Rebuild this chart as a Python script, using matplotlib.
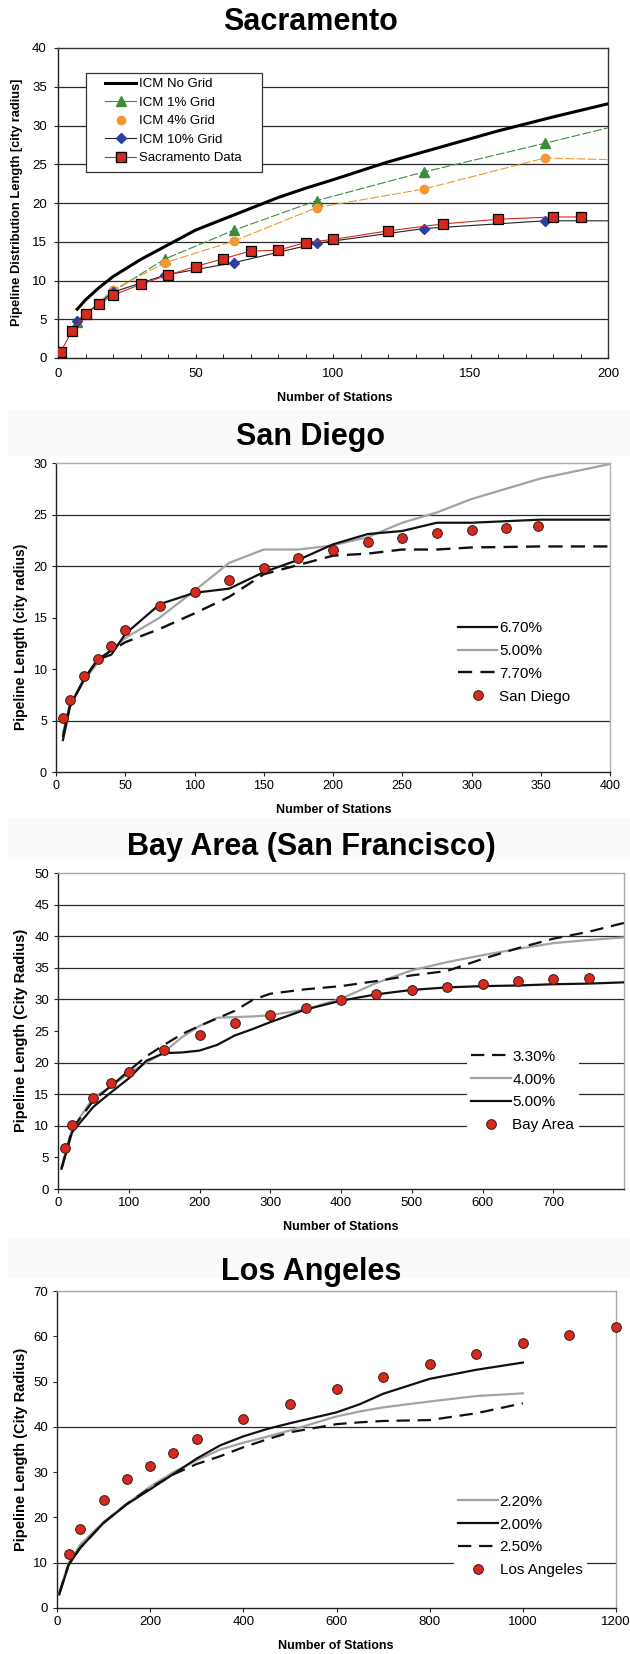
import matplotlib
matplotlib.use('agg')
import matplotlib.pyplot as plt
from matplotlib.lines import Line2D
from matplotlib.patches import Rectangle

plt.rcParams['font.family'] = ['Liberation Sans', 'DejaVu Sans']

RED = '#d62a1e'
GRAY = '#a3a3a3'

# ---- Sacramento ----
sac_x_nogrid = [7, 10, 15, 20, 30, 40, 50, 60, 70, 80, 90, 100, 120, 140, 160, 180, 200]
sac_y_nogrid = [6.3, 7.5, 9.1, 10.5, 12.7, 14.6, 16.5, 17.9, 19.3, 20.7, 21.9, 23.0, 25.3, 27.3, 29.3, 31.1, 32.8]
sac_x_grid = [7, 20, 39, 64, 94, 133, 177, 200]
sac_y_1pct = [4.7, 8.6, 12.8, 16.5, 20.3, 24.0, 27.7, 29.7]
sac_y_4pct = [4.7, 8.8, 12.3, 15.1, 19.4, 21.8, 25.8, 25.6]
sac_y_10pct = [4.8, 8.5, 10.7, 12.3, 14.8, 16.7, 17.7, 17.7]
sac_x_data = [1, 5, 10, 15, 20, 30, 40, 50, 60, 70, 80, 90, 100, 120, 140, 160, 180, 190]
sac_y_data = [0.8, 3.45, 5.65, 7.0, 8.1, 9.5, 10.7, 11.8, 12.8, 13.8, 13.9, 14.9, 15.3, 16.4, 17.3, 17.9, 18.2, 18.2]

# ---- San Diego ----
sd_x_data = [5, 10, 20, 30, 40, 50, 75, 100, 125, 150, 175, 200, 225, 250, 275, 300, 325, 348]
sd_y_data = [5.25, 7.0, 9.3, 10.95, 12.2, 13.8, 16.15, 17.5, 18.6, 19.8, 20.8, 21.6, 22.3, 22.7, 23.2, 23.5, 23.7, 23.9]
sd_x_model = [5, 10, 20, 30, 40, 50, 75, 100, 125, 150, 175, 200, 225, 250, 275, 300, 350, 400]
sd_y_670 = [3.1, 6.3, 9.0, 10.9, 11.4, 13.4, 16.3, 17.4, 17.8, 19.4, 20.6, 22.1, 23.1, 23.4, 24.2, 24.2, 24.5, 24.5]
sd_y_500 = [3.8, 6.6, 8.8, 10.6, 11.9, 13.0, 15.0, 17.6, 20.3, 21.6, 21.6, 22.0, 22.8, 24.2, 25.2, 26.5, 28.5, 29.9]
sd_y_770 = [3.4, 6.4, 8.9, 10.9, 11.8, 12.6, 13.9, 15.4, 17.0, 19.2, 20.1, 21.0, 21.2, 21.6, 21.6, 21.8, 21.9, 21.9]

# ---- Bay Area ----
bay_x_data = [10, 20, 50, 75, 100, 150, 200, 250, 300, 350, 400, 450, 500, 550, 600, 650, 700, 750]
bay_y_data = [6.5, 10.1, 14.4, 16.7, 18.5, 22.0, 24.3, 26.2, 27.6, 28.7, 29.9, 30.9, 31.5, 32.0, 32.5, 32.9, 33.2, 33.4]
bay_x_model = [5, 20, 50, 75, 100, 125, 150, 175, 200, 225, 250, 275, 300, 350, 400, 450, 500, 550, 600, 650, 700, 750, 800]
bay_y_330 = [3.2, 9.5, 14.0, 16.3, 18.7, 21.0, 22.8, 24.5, 25.8, 27.0, 28.2, 29.9, 30.9, 31.6, 32.1, 32.9, 33.8, 34.5, 36.4, 38.1, 39.6, 40.7, 42.1]
bay_y_400 = [3.5, 9.5, 14.5, 16.2, 18.3, 20.0, 21.7, 24.0, 25.8, 27.1, 27.2, 27.3, 27.5, 28.4, 30.1, 32.6, 34.6, 35.9, 37.0, 38.0, 38.9, 39.4, 39.8]
bay_y_500 = [3.2, 9.0, 13.0, 15.3, 17.5, 20.3, 21.5, 21.6, 21.9, 22.8, 24.3, 25.3, 26.4, 28.4, 29.8, 30.8, 31.5, 31.9, 32.1, 32.2, 32.4, 32.5, 32.7]

# ---- Los Angeles ----
la_x_data = [25, 50, 100, 150, 200, 250, 300, 400, 500, 600, 700, 800, 900, 1000, 1100, 1200]
la_y_data = [11.9, 17.5, 23.9, 28.5, 31.4, 34.2, 37.3, 41.8, 45.1, 48.3, 51.1, 53.8, 56.1, 58.5, 60.2, 62.0]
la_x_model = [5, 25, 50, 100, 150, 200, 250, 300, 350, 400, 450, 500, 600, 650, 700, 800, 900, 1000]
la_y_220 = [3.5, 10.0, 14.0, 19.0, 23.0, 26.8, 30.0, 32.6, 35.0, 36.5, 37.8, 39.2, 42.3, 43.4, 44.3, 45.6, 46.8, 47.4]
la_y_200 = [3.0, 9.5, 13.3, 18.8, 22.9, 26.2, 29.6, 33.0, 35.9, 37.9, 39.5, 40.8, 43.2, 45.0, 47.3, 50.6, 52.6, 54.2]
la_y_250 = [3.3, 9.6, 13.3, 18.8, 23.0, 26.5, 29.5, 31.8, 33.5, 35.5, 37.2, 38.8, 40.6, 41.0, 41.3, 41.5, 43.0, 45.2]

W, H = 630, 1654
fig = plt.figure(figsize=(W / 100, H / 100), dpi=100)

# very faint grey bands behind the titles
for y0, y1 in [(410, 455), (818, 858), (1238, 1277)]:
    fig.patches.append(Rectangle((8 / W, 1 - y1 / H), 1, (y1 - y0) / H,
                                 transform=fig.transFigure, color='#fafafa', zorder=0))


def make_axes(left, right, top, bottom):
    return fig.add_axes([left / W, 1 - bottom / H, (right - left) / W, (bottom - top) / H])


def style(ax, xlim, xticks, ylim, yticks, grid, frame_col, tick_size):
    ax.set_xlim(*xlim)
    ax.set_ylim(*ylim)
    ax.set_xticks(xticks)
    ax.set_yticks(yticks)
    for y in grid:
        ax.axhline(y, color='#2a2a2a', lw=0.9, zorder=0.5)
    ax.spines['left'].set_color('#222222')
    ax.spines['bottom'].set_color('#222222')
    ax.spines['top'].set_color(frame_col)
    ax.spines['right'].set_color(frame_col)
    for s in ax.spines.values():
        s.set_linewidth(1.0)
    ax.tick_params(labelsize=tick_size, length=3, width=0.8, color='#222222')


def title(text, y):
    fig.text(311 / W, 1 - y / H, text, ha='center', va='center',
             fontsize=22, fontweight='bold')


def xlabel(text, x, y):
    fig.text(x / W, 1 - y / H, text, ha='center', va='center', fontsize=9, fontweight='bold')


def ylabel(text, x, y, size):
    fig.text(x / W, 1 - y / H, text, ha='center', va='center', rotation=90,
             fontsize=size, fontweight='bold')


def side_legend(ax, handles, labels, x, y, framed):
    leg = ax.legend(handles, labels, loc='center left', bbox_to_anchor=(x, y),
                    borderaxespad=0, fontsize=11, handlelength=2.6, handletextpad=0.1,
                    labelspacing=0.58, borderpad=0.3 if framed else 0,
                    frameon=framed, fancybox=False, framealpha=1, edgecolor='none')
    leg.set_zorder(10)
    return leg


# ---------------- Sacramento ----------------
ax = make_axes(58, 608, 48, 358)
style(ax, (0, 200), range(0, 201, 50), (0, 40), range(0, 41, 5),
      [5, 10, 15, 20, 25, 30, 35], '#333333', 9.5)
ax.set_xticks(range(0, 201, 10), minor=True)
ax.tick_params(axis='x', which='both', direction='in', length=3, pad=7)
ax.tick_params(axis='y', pad=5)
ax.plot(sac_x_nogrid, sac_y_nogrid, color='black', lw=2.2, zorder=3)
ax.plot(sac_x_grid, sac_y_1pct, color='#3c8c3c', lw=0.8, dashes=(8, 2), marker='^',
        ms=6.5, markevery=list(range(7)), zorder=4)
ax.plot(sac_x_grid, sac_y_4pct, color='#f5962e', lw=0.8, dashes=(8, 2), marker='o',
        ms=6, markevery=list(range(1, 7)), zorder=4)
ax.plot(sac_x_grid, sac_y_10pct, color='#222222', lw=0.8, marker='D', ms=5,
        mfc='#2b3fa0', mec='#2b3fa0', markevery=list(range(7)), zorder=5)
ax.plot(sac_x_data, sac_y_data, color=RED, lw=0.8, marker='s', ms=6.5,
        mfc=RED, mec='black', mew=0.9, zorder=6)
# legend box drawn by hand: wide side padding, tight top
ax.add_patch(Rectangle((0.051, 0.60), 0.32, 0.319, transform=ax.transAxes,
                       facecolor='white', edgecolor='#333333', lw=0.9, zorder=9))
handles = [
    Line2D([], [], color='black', lw=2.2),
    Line2D([], [], color='#3c8c3c', lw=0.8, marker='^', ms=6.5),
    Line2D([], [], color='none', marker='o', ms=6, mfc='#f5962e', mec='#f5962e'),
    Line2D([], [], color='#222222', lw=0.8, marker='D', ms=5, mfc='#2b3fa0', mec='#2b3fa0'),
    Line2D([], [], color=RED, lw=0.8, marker='s', ms=6.5, mfc=RED, mec='black'),
]
leg = ax.legend(handles, ['ICM No Grid', 'ICM 1% Grid', 'ICM 4% Grid', 'ICM 10% Grid',
                          'Sacramento Data'],
                loc='center left', bbox_to_anchor=(0.085, 0.764), borderaxespad=0,
                fontsize=9.5, handlelength=2.4, handletextpad=0.2, labelspacing=0.48,
                borderpad=0, frameon=False)
leg.set_zorder(10)
title('Sacramento', 22)
xlabel('Number of Stations', 335, 398)
ylabel('Pipeline Distribution Length [city radius]', 17, 202, 9.3)

# ---------------- San Diego ----------------
ax = make_axes(56, 610, 463, 772)
style(ax, (0, 400), range(0, 401, 50), (0, 30), range(0, 31, 5),
      [5, 20, 25], '#b0b0b0', 9)
ax.tick_params(axis='x', pad=3)
l500, = ax.plot(sd_x_model, sd_y_500, color=GRAY, lw=1.6, zorder=2)
l770, = ax.plot(sd_x_model, sd_y_770, color='#111111', lw=1.7, dashes=(6, 3.5), zorder=3)
l670, = ax.plot(sd_x_model, sd_y_670, color='#111111', lw=1.6, zorder=4)
pts, = ax.plot(sd_x_data, sd_y_data, ls='none', marker='o', ms=7, mfc=RED, mec='#3a1a14',
               mew=0.7, zorder=5)
side_legend(ax, [l670, l500, l770, pts], ['6.70%', '5.00%', '7.70%', 'San Diego'],
            0.725, 0.355, False)
title('San Diego', 437)
xlabel('Number of Stations', 334, 810)
ylabel('Pipeline Length (city radius)', 21, 637, 10)

# ---------------- Bay Area ----------------
ax = make_axes(58, 624, 873, 1189)
style(ax, (0, 800), range(0, 701, 100), (0, 50), range(0, 51, 5),
      [10, 15, 20, 30, 35, 40, 45], '#a8a8a8', 9.5)
ax.tick_params(axis='x', pad=3)
l400, = ax.plot(bay_x_model, bay_y_400, color=GRAY, lw=1.6, zorder=2)
l330, = ax.plot(bay_x_model, bay_y_330, color='#111111', lw=1.6, dashes=(6, 3.5), zorder=3)
l500, = ax.plot(bay_x_model, bay_y_500, color='#111111', lw=1.6, zorder=4)
pts, = ax.plot(bay_x_data, bay_y_data, ls='none', marker='o', ms=7, mfc=RED, mec='#3a1a14',
               mew=0.7, zorder=5)
side_legend(ax, [l330, l400, l500, pts], ['3.30%', '4.00%', '5.00%', 'Bay Area'],
            0.722, 0.31, True)
title('Bay Area (San Francisco)', 847)
xlabel('Number of Stations', 341, 1227)
ylabel('Pipeline Length (City Radius)', 21, 1030, 10.5)

# ---------------- Los Angeles ----------------
ax = make_axes(57, 616, 1291, 1608)
style(ax, (0, 1200), range(0, 1201, 200), (0, 70), range(0, 71, 10),
      [10, 40], '#a8a8a8', 9.5)
ax.tick_params(axis='x', pad=3)
l220, = ax.plot(la_x_model, la_y_220, color=GRAY, lw=1.6, zorder=2)
l200, = ax.plot(la_x_model, la_y_200, color='#111111', lw=1.6, zorder=4)
l250, = ax.plot(la_x_model, la_y_250, color='#111111', lw=1.6, dashes=(6, 3.5), zorder=3)
pts, = ax.plot(la_x_data, la_y_data, ls='none', marker='o', ms=7, mfc=RED, mec='#3a1a14',
               mew=0.7, zorder=5, clip_on=False)
side_legend(ax, [l220, l200, l250, pts], ['2.20%', '2.00%', '2.50%', 'Los Angeles'],
            0.71, 0.227, True)
title('Los Angeles', 1272)
xlabel('Number of Stations', 336, 1646)
ylabel('Pipeline Length (City Radius)', 21, 1449, 10.5)

fig.savefig('out.png', dpi=100)
